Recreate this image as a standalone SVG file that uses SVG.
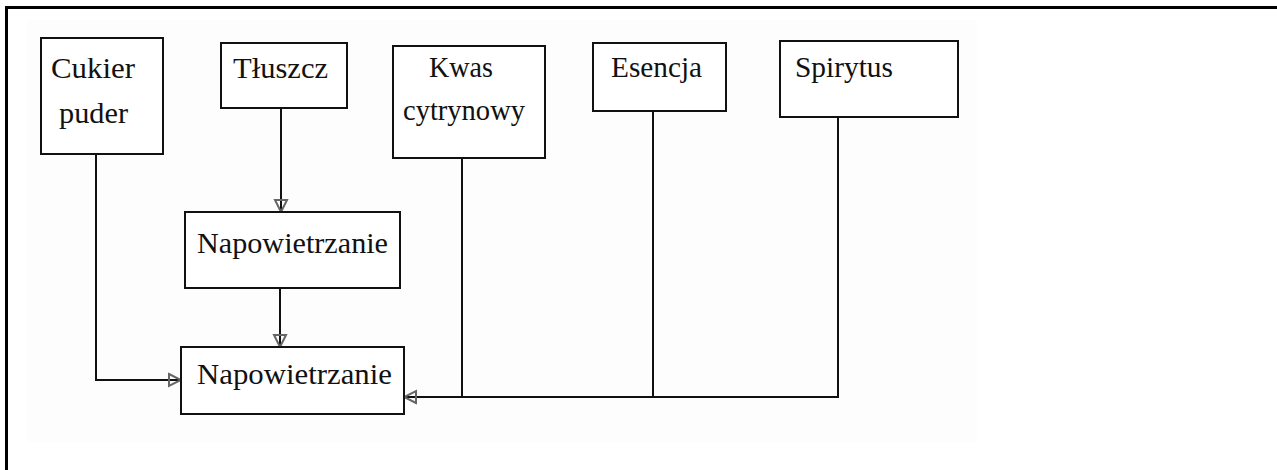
<svg xmlns="http://www.w3.org/2000/svg" width="1277" height="470" viewBox="0 0 1277 470">
<defs>
<style>
.box{fill:#fff;stroke:#111;stroke-width:2}
.lbl{font-family:"Liberation Serif","Times New Roman",serif;font-size:30px;fill:#111}
.conn{fill:none;stroke:#111;stroke-width:2}
</style>
<marker id="arr" markerUnits="userSpaceOnUse" markerWidth="16" markerHeight="16" viewBox="0 0 16 16" refX="14" refY="8" orient="auto">
<path d="M2,2 L14,8 L2,14 Z" fill="none" stroke="#666" stroke-width="2"/>
</marker>
</defs>
<rect x="0" y="0" width="1277" height="470" fill="#fff"/>
<rect x="27" y="20" width="950" height="422" fill="#fdfdfd"/>
<path d="M6.5,470 V7.5 H1277" fill="none" stroke="#000" stroke-width="3"/>
<g id="connectors">
<path class="conn" d="M96,154 V380 H181" marker-end="url(#arr)"/>
<path class="conn" d="M281,108 V212" marker-end="url(#arr)"/>
<path class="conn" d="M280,288 V347" marker-end="url(#arr)"/>
<path class="conn" d="M838,117 V397 H404" marker-end="url(#arr)"/>
<path class="conn" d="M462,158 V397"/>
<path class="conn" d="M653,111 V397"/>
</g>
<g id="cukier">
<rect class="box" x="41" y="38" width="122" height="116"/>
<text class="lbl" x="51" y="78" textLength="84" lengthAdjust="spacingAndGlyphs">Cukier</text>
<text class="lbl" x="59" y="123" textLength="69" lengthAdjust="spacingAndGlyphs">puder</text>
</g>
<g id="tluszcz">
<rect class="box" x="221" y="43" width="126" height="65"/>
<text class="lbl" x="233" y="78" textLength="95" lengthAdjust="spacingAndGlyphs">Tłuszcz</text>
</g>
<g id="kwas">
<rect class="box" x="393" y="46" width="152" height="112"/>
<text class="lbl" x="429" y="77" textLength="64" lengthAdjust="spacingAndGlyphs">Kwas</text>
<text class="lbl" x="403" y="120" textLength="122" lengthAdjust="spacingAndGlyphs">cytrynowy</text>
</g>
<g id="esencja">
<rect class="box" x="593" y="43" width="133" height="68"/>
<text class="lbl" x="611" y="77" textLength="91" lengthAdjust="spacingAndGlyphs">Esencja</text>
</g>
<g id="spirytus">
<rect class="box" x="780" y="41" width="178" height="76"/>
<text class="lbl" x="795" y="77" textLength="98" lengthAdjust="spacingAndGlyphs">Spirytus</text>
</g>
<g id="napowietrzanie1">
<rect class="box" x="185" y="212" width="215" height="76"/>
<text class="lbl" x="197" y="253" textLength="191" lengthAdjust="spacingAndGlyphs">Napowietrzanie</text>
</g>
<g id="napowietrzanie2">
<rect class="box" x="181" y="347" width="223" height="67"/>
<text class="lbl" x="197" y="384" textLength="195" lengthAdjust="spacingAndGlyphs">Napowietrzanie</text>
</g>
</svg>
